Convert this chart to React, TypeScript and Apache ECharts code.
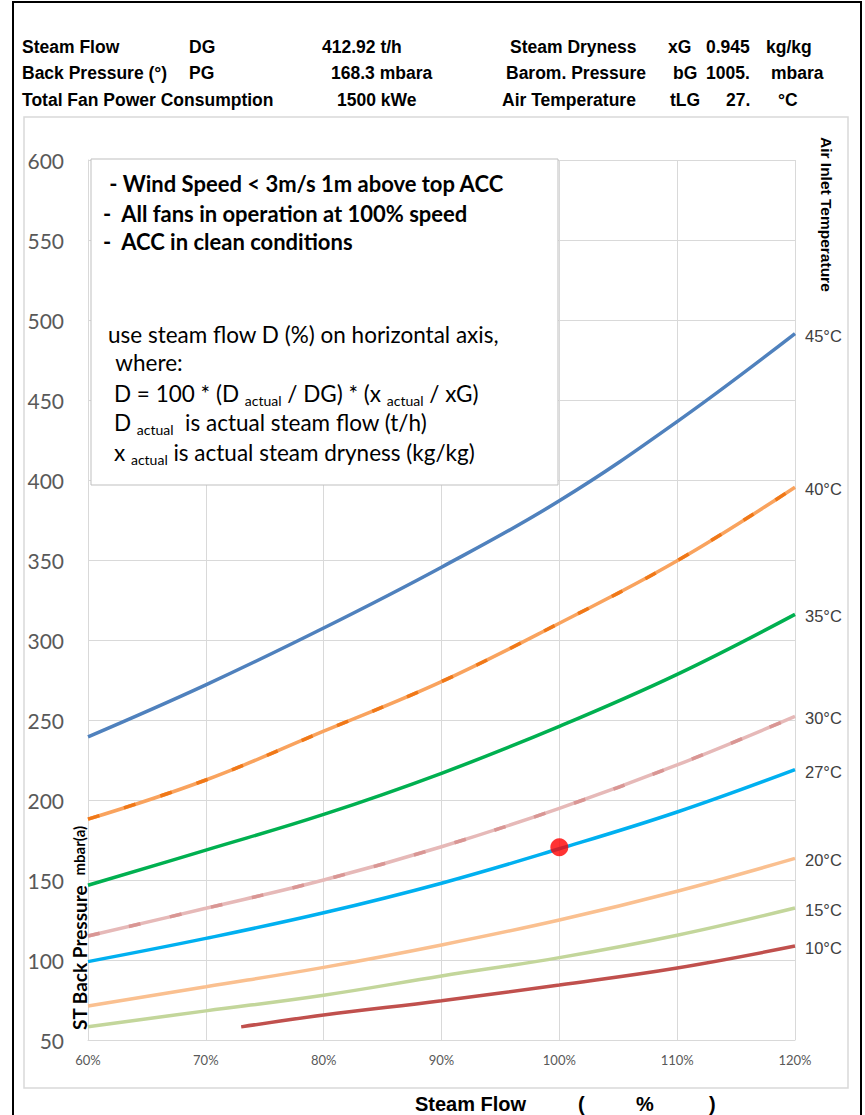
import React, { useEffect, useRef } from "react";
import * as echarts from "echarts";

// ---- data ----
const steamFlowPct = [60, 70, 80, 90, 100, 110, 120];
const t45 = [239.5, 272, 307.5, 345.5, 387, 436.5, 491.5];
const t40 = [188, 212.5, 243, 274, 310.5, 349.5, 395.5];
const t35 = [146.7, 168.7, 191, 216.7, 246, 278.5, 316];
const t30 = [115, 132.3, 150, 170.8, 194.8, 221.9, 252.2];
const t27 = [99, 113.5, 129.5, 148, 169.5, 192.5, 219];
const t20 = [71.3, 83.3, 95.4, 109.4, 125, 143, 163.5];
const t15 = [58.3, 68.2, 78, 90, 101.5, 115.5, 132.5];
const t10Pct = [73, 80, 90, 100, 110, 120];
const t10 = [58.2, 65.6, 74.5, 84.4, 95, 108.7];
const operatingPoint = [100, 170.5];

const curveNames = ["45°C", "40°C", "35°C", "30°C", "27°C", "20°C", "15°C", "10°C"];
const curveColors = ["#4f81bd", "#f9a35e", "#00b050", "#e6b9b8", "#00b0f0", "#fac090", "#c3d69b", "#c0504d"];

const headerRows = [
  [["Steam Flow", 22], ["DG", 189], ["412.92 t/h", 322], ["Steam Dryness", 510], ["xG", 668], ["0.945", 706], ["kg/kg", 766]],
  [["Back Pressure (°)", 22], ["PG", 189], ["168.3 mbara", 331], ["Barom. Pressure", 506], ["bG", 673], ["1005.", 706], ["mbara", 771]],
  [["Total Fan Power Consumption", 22], ["1500 kWe", 337], ["Air Temperature", 502], ["tLG", 670], ["27.", 726], ["°C", 778]],
];
const headerY = [47, 73, 100];

const zip = (xs: number[], ys: number[]) => xs.map((x, i) => [x, ys[i]]);

export default function App() {
  const ref = useRef<HTMLDivElement>(null);
  useEffect(() => {
    if (!ref.current) return;
    const chart = echarts.init(ref.current, null, { renderer: "svg" });
    const endLabel = (name: string) => ({
      show: true,
      formatter: name,
      distance: 10,
      offset: [0, 2],
      color: "#404040",
      fontSize: 16.5,
      fontFamily: "Liberation Sans",
    });
    const curves = [t45, t40, t35, t30, t27, t20, t15];
    const series: any[] = curves.map((ys, i) => ({
      type: "line",
      name: curveNames[i],
      data: zip(steamFlowPct, ys),
      smooth: 0.4,
      showSymbol: false,
      lineStyle: { color: curveColors[i], width: 3.5 },
      itemStyle: { color: curveColors[i] },
      endLabel: endLabel(curveNames[i]),
      z: 3,
    }));
    series.push({
      type: "line",
      name: curveNames[7],
      data: zip(t10Pct, t10),
      smooth: 0.4,
      showSymbol: false,
      lineStyle: { color: curveColors[7], width: 3.5 },
      endLabel: endLabel(curveNames[7]),
      z: 3,
    });
    // dashed overlays (darker dashes on 40°C and 30°C curves)
    series.push({
      type: "line",
      data: zip(steamFlowPct, t40),
      smooth: 0.4,
      showSymbol: false,
      lineStyle: { color: "#f07818", width: 3.5, type: [12, 26] },
      z: 4,
    });
    series.push({
      type: "line",
      data: zip(steamFlowPct, t30),
      smooth: 0.4,
      showSymbol: false,
      lineStyle: { color: "#d99694", width: 3.5, type: [12, 30] },
      z: 4,
    });
    series.push({
      type: "scatter",
      data: [operatingPoint],
      symbolSize: 18,
      itemStyle: { color: "#ff0000" },
      z: 10,
    });

    const graphic: any[] = [
      { type: "rect", shape: { x: 13, y: 2, width: 848, height: 1200 }, style: { fill: "none", stroke: "#000", lineWidth: 2 }, silent: true, z: -10 },
      { type: "rect", shape: { x: 24, y: 117, width: 824, height: 971 }, style: { fill: "none", stroke: "#d9d9d9", lineWidth: 1.5 }, silent: true, z: -10 },
    ];
    headerRows.forEach((row, r) => {
      row.forEach(([t, x]) => {
        graphic.push({
          type: "text",
          x: x as number,
          y: headerY[r],
          style: { text: t as string, fontSize: 17.5, fontWeight: "bold", fontFamily: "Liberation Sans", fill: "#000", align: "left", verticalAlign: "middle" },
        });
      });
    });
    // notes box
    graphic.push({
      type: "rect",
      shape: { x: 91, y: 159, width: 467, height: 326 },
      style: { fill: "#fff", stroke: "#bfbfbf", lineWidth: 1 },
      z: 50,
    });
    const boldLines: [string, number, number][] = [
      [" - Wind Speed < 3m/s 1m above top ACC", 104, 183],
      ["-  All fans in operation at 100% speed", 103, 213],
      ["-  ACC in clean conditions", 103, 241],
    ];
    boldLines.forEach(([t, x, y]) => {
      graphic.push({
        type: "text", x, y, z: 51,
        style: { text: t, fontSize: 22, fontWeight: "bold", fontFamily: "Lato", fill: "#000", align: "left", verticalAlign: "middle" },
      });
    });
    const rich = {
      n: { fontSize: 22.5, fontFamily: "Lato", fill: "#000", color: "#000", lineHeight: 28 },
      s: { fontSize: 14, fontFamily: "Lato", fill: "#000", color: "#000", lineHeight: 28, verticalAlign: "bottom", padding: [12, 0, 0, 0] },
    };
    const plainLines: [string, number, number][] = [
      ["{n|use steam flow D (%) on horizontal axis,}", 108, 334],
      ["{n| where:}", 110, 362],
      ["{n|D = 100 * (D }{s|actual}{n| / DG) * (x }{s|actual}{n| / xG)}", 114, 393],
      ["{n|D }{s|actual}{n|  is actual steam flow (t/h)}", 114, 422],
      ["{n|x }{s|actual}{n| is actual steam dryness (kg/kg)}", 114, 452],
    ];
    plainLines.forEach(([t, x, y]) => {
      graphic.push({
        type: "text", x, y, z: 51,
        style: { text: t, rich, align: "left", verticalAlign: "middle", fill: "#000" },
      });
    });
    // axis titles
    graphic.push({
      type: "text", x: 79, y: 1030, rotation: Math.PI / 2,
      style: {
        text: "{a|ST Back Pressure  }{b|mbar(a)}",
        rich: {
          a: { fontSize: 19, fontWeight: "bold", fontFamily: "Lato", fill: "#000" },
          b: { fontSize: 15, fontWeight: "bold", fontFamily: "Lato", fill: "#000" },
        },
        align: "left", verticalAlign: "middle",
      },
      z: 20,
    });
    graphic.push({
      type: "text", x: 826, y: 137, rotation: -Math.PI / 2,
      style: { text: "Air Inlet Temperature", fontSize: 15.5, fontWeight: "bold", fontFamily: "Liberation Sans", fill: "#000", align: "left", verticalAlign: "middle" },
    });
    const xTitle: [string, number][] = [["Steam Flow", 415], ["(", 578], ["%", 636], [")", 709]];
    xTitle.forEach(([t, x]) => {
      graphic.push({
        type: "text", x, y: 1104,
        style: { text: t, fontSize: 20, fontWeight: "bold", fontFamily: "Liberation Sans", fill: "#000", align: "left", verticalAlign: "middle" },
      });
    });

    chart.setOption({
      animation: false,
      backgroundColor: "#fff",
      grid: { left: 88, right: 70, top: 160, bottom: 75, containLabel: false },
      xAxis: {
        type: "value",
        min: 60,
        max: 120,
        interval: 10,
        axisLine: { show: true, lineStyle: { color: "#d9d9d9" } },
        axisTick: { show: false },
        splitLine: { show: true, lineStyle: { color: "#d9d9d9", width: 1 } },
        axisLabel: { formatter: "{value}%", color: "#595959", fontSize: 13, fontFamily: "Lato", margin: 13 },
      },
      yAxis: {
        type: "value",
        min: 50,
        max: 600,
        interval: 50,
        axisLine: { show: true, lineStyle: { color: "#d9d9d9" } },
        axisTick: { show: false },
        splitLine: { show: true, lineStyle: { color: "#d9d9d9", width: 1 } },
        axisLabel: { color: "#595959", fontSize: 21, fontFamily: "Lato", margin: 24 },
      },
      series,
      graphic,
    });
    return () => chart.dispose();
  }, []);
  return (
    <div
      ref={ref}
      style={{ position: "absolute", left: 0, top: 0, width: 865, height: 1115, background: "#fff" }}
    />
  );
}
